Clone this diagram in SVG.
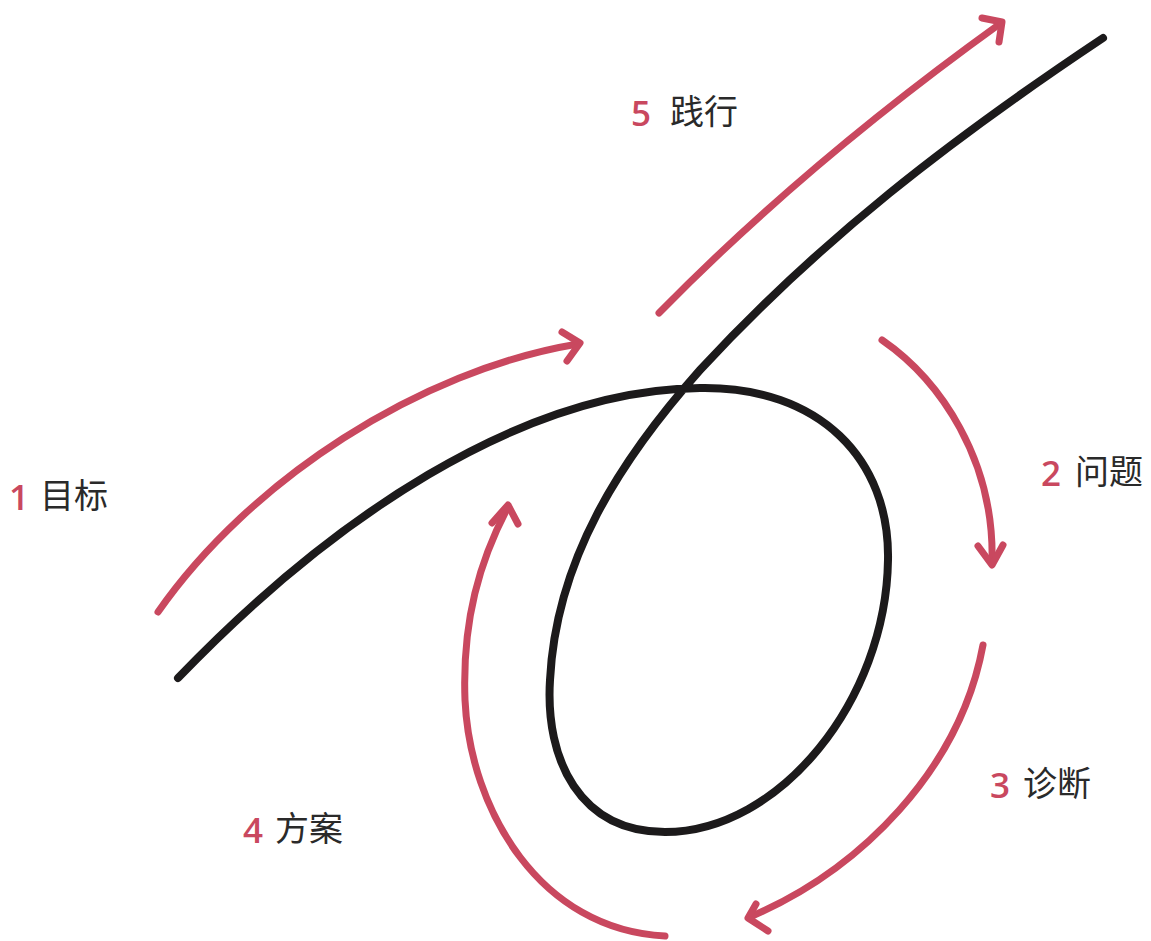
<svg xmlns="http://www.w3.org/2000/svg" width="1151" height="941" viewBox="0 0 1151 941">
<style>
.loop{fill:none;stroke:#1c1a1b;stroke-width:8;stroke-linecap:round;stroke-linejoin:round}
.arr{fill:none;stroke:#c9485f;stroke-width:7;stroke-linecap:round;stroke-linejoin:round}
.num{font-family:"Open Sans","Liberation Sans",sans-serif;font-size:35px;font-weight:600;fill:#c9485f}
.lbl{font-family:"Noto Sans CJK SC","Noto Sans",sans-serif;font-size:34px;fill:#2a2a2a}
</style>
<rect width="1151" height="941" fill="#ffffff"/>
<g id="curve">
<path class="loop" d="M178,678 C330,520 520,390 700,388 C820,386 890,460 888,560 C886,700 780,832 665,832 C580,832 545,760 550,680 C556,560 620,460 700,370 C820,240 950,140 1103,38"/>
</g>
<g id="connectors">
<path class="arr" d="M158,612 C250,480 420,370 578,344"/>
<path class="arr" d="M562,332 L580,343 L567,361"/>
<path class="arr" d="M659,313 C760,210 880,110 1001,23"/>
<path class="arr" d="M982,18 L1002,22 L999,42"/>
<path class="arr" d="M882,340 C940,380 995,460 992,563"/>
<path class="arr" d="M978,546 L992,565 L1003,545"/>
<path class="arr" d="M983,645 C960,770 860,870 750,917"/>
<path class="arr" d="M756,904 L748,918 L768,931"/>
<path class="arr" d="M665,936 C540,930 470,810 465,700 C462,620 480,560 508,507"/>
<path class="arr" d="M492,523 L508,505 L518,524"/>
</g>
<g id="n1"><text x="9" y="510" class="num">1</text><text x="40" y="508" class="lbl">目标</text></g>
<g id="n5"><text x="631" y="126" class="num">5</text><text x="670" y="124" class="lbl">践行</text></g>
<g id="n2"><text x="1041" y="486" class="num">2</text><text x="1075" y="484" class="lbl">问题</text></g>
<g id="n3"><text x="990" y="798" class="num">3</text><text x="1023" y="796" class="lbl">诊断</text></g>
<g id="n4"><text x="243" y="843" class="num">4</text><text x="275" y="841" class="lbl">方案</text></g>
</svg>
